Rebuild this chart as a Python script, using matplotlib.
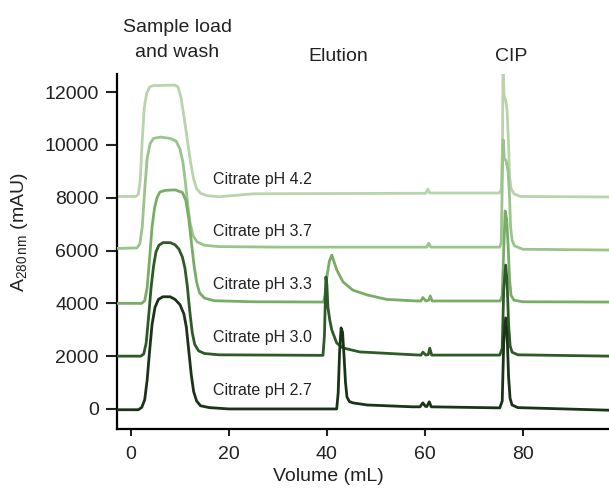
import matplotlib
matplotlib.use('Agg')
import matplotlib.pyplot as plt
from matplotlib.transforms import blended_transform_factory

plt.rcParams['font.family'] = ['Liberation Sans', 'DejaVu Sans']
plt.rcParams['mathtext.fontset'] = 'custom'
plt.rcParams['mathtext.rm'] = 'Liberation Sans'
plt.rcParams['mathtext.it'] = 'Liberation Sans:italic'

# traces, mAU above each trace's own baseline
vol_27 = [-3, 1.5, 2.2, 2.8, 3.3, 3.8, 4.3, 4.9, 5.6, 6.5, 8.0, 9.0, 10.0, 10.8, 11.3, 11.8, 12.3, 12.8, 13.4, 14.2, 16.0, 20.0,
          42.0, 42.3, 42.6, 42.9, 43.2, 43.5, 43.8, 44.1, 44.6, 45.3, 48.2, 57.5,
          59.0, 59.6, 60.1, 60.4, 60.9, 61.3,
          75.3, 75.8, 76.1, 76.5, 76.8, 77.1, 77.4, 77.8, 79.0, 98.0]
mau_27 = [-30, -30, 60, 350, 1100, 2200, 3200, 3850, 4150, 4250, 4250, 4150, 3950, 3600, 3100, 2200, 1300, 650, 300, 120, 50, 0,
          0, 600, 2200, 3070, 2900, 2000, 1000, 450, 280, 230, 150, 80,
          80, 230, 100, 90, 270, 80,
          40, 300, 2500, 3450, 2800, 1200, 400, 150, 50, -50]

vol_30 = [-3, 2.0, 2.6, 3.1, 3.6, 4.1, 4.6, 5.1, 5.7, 6.5, 8.0, 9.0, 9.8, 10.5, 11.0, 11.5, 12.0, 12.5, 13.0, 13.8, 15.0, 18.0,
          39.2, 39.5, 39.8, 40.0, 40.2, 40.6, 41.0, 42.0, 43.3, 46.7, 50.8, 58.4,
          59.2, 59.6, 60.2, 60.7, 61.0, 61.4,
          75.3, 75.8, 76.1, 76.5, 76.8, 77.1, 77.4, 77.8, 79.0, 98.0]
mau_30 = [0, 0, 80, 500, 1500, 2600, 3400, 3950, 4200, 4300, 4300, 4220, 4050, 3750, 3350, 2650, 1700, 900, 450, 200, 100, 50,
          30, 800, 3000, 2700, 1860, 1350, 990, 500, 310, 160, 120, 45,
          40, 150, 40, 60, 300, 40,
          40, 300, 2500, 3450, 2800, 1200, 400, 150, 50, 0]

vol_33 = [-3, 2.2, 2.8, 3.3, 3.8, 4.3, 4.8, 5.3, 5.9, 7.0, 9.0, 10.5, 11.2, 11.8, 12.4, 12.9, 13.4, 14.0, 15.0, 17.0, 25.0,
          39.3, 39.6, 40.0, 40.5, 41.0, 41.5, 42.0, 43.3, 45.3, 48.2, 52.2, 58.4,
          59.2, 59.6, 60.2, 60.8, 61.1, 61.5,
          75.4, 75.8, 76.1, 76.4, 76.7, 77.0, 77.3, 77.6, 78.2, 80.0, 98.0]
mau_33 = [0, 0, 100, 600, 1700, 2900, 3600, 4000, 4220, 4280, 4300, 4200, 3900, 3200, 2200, 1400, 800, 400, 200, 100, 60,
          50, 300, 1000, 1600, 1830, 1550, 1270, 810, 500, 320, 150, 90,
          90, 220, 90, 120, 280, 90,
          90, 300, 2000, 3500, 3200, 2200, 900, 300, 120, 60, 50]

vol_37 = [-3, 1.2, 1.8, 2.3, 2.8, 3.3, 3.9, 4.6, 6.0, 8.0, 9.2, 10.0, 10.6, 11.1, 11.6, 12.1, 12.7, 13.5, 15.0, 18.0, 30.0,
          60.4, 60.8, 61.2,
          75.3, 75.6, 75.8, 75.95, 76.05, 76.2, 76.6, 77.0, 77.3, 77.5, 77.8, 78.3, 80.0, 98.0]
mau_37 = [80, 100, 250, 900, 2300, 3500, 4050, 4250, 4300, 4250, 4150, 3850, 3350, 2600, 1700, 1000, 550, 330, 200, 150, 130,
          130, 280, 130,
          130, 300, 2500, 4200, 4150, 3500, 3400, 3000, 2000, 900, 400, 180, 50, 20]

vol_42 = [-3, 1.0, 1.5, 1.9, 2.3, 2.7, 3.2, 3.8, 4.5, 9.0, 9.6, 10.2, 10.8, 11.5, 12.2, 12.8, 13.4, 14.2, 15.5, 18.0, 25.0,
          55.0, 60.2, 60.6, 61.0,
          75.2, 75.6, 75.85, 75.95, 76.05, 76.15, 76.5, 76.8, 77.1, 77.3, 77.6, 78.2, 79.5, 98.0]
mau_42 = [50, 50, 130, 700, 2200, 3400, 3950, 4200, 4250, 4270, 4200, 3800, 3100, 2200, 1300, 700, 350, 170, 80, 40, 150,
          170, 170, 330, 180,
          180, 300, 2000, 4700, 4700, 3900, 3700, 3300, 2000, 800, 350, 150, 50, 30]

names = ['Citrate pH 4.2', 'Citrate pH 3.7', 'Citrate pH 3.3', 'Citrate pH 3.0', 'Citrate pH 2.7']
offsets = [8000, 6000, 4000, 2000, 0]
vols = [vol_42, vol_37, vol_33, vol_30, vol_27]
maus = [mau_42, mau_37, mau_33, mau_30, mau_27]
colors = ['#b8d4ab', '#99c48a', '#78ad66', '#2e5a27', '#1b3318']

phases = ['Sample load', 'and wash', 'Elution', 'CIP']
phase_x = [9.5, 9.5, 42.4, 77.7]

fig = plt.figure(figsize=(6.09, 4.90), dpi=100)
ax = fig.add_axes([0.1921, 0.1245, 0.8079, 0.7245])

for i in range(len(names)):
    y = [m + offsets[i] for m in maus[i]]
    ax.plot(vols[i], y, color=colors[i], lw=2.0, solid_joinstyle='round', zorder=2 + i)
    ax.text(16.7, offsets[i] + 540, names[i], fontsize=11.5, ha='left', va='baseline', color='#222222')

trans = blended_transform_factory(ax.transData, ax.transAxes)
phase_y = [1.118, 1.048, 1.037, 1.037]
for t, x, yy in zip(phases, phase_x, phase_y):
    ax.text(x, yy, t, transform=trans, fontsize=14, ha='center', va='baseline', color='#222222')

ax.set_xlim(-2.86, 97.6)
ax.set_ylim(-760, 12690)
ax.set_xticks([0, 20, 40, 60, 80])
ax.set_yticks([0, 2000, 4000, 6000, 8000, 10000, 12000])

ax.spines['top'].set_visible(False)
ax.spines['right'].set_visible(False)
ax.spines['left'].set_linewidth(1.6)
ax.spines['bottom'].set_linewidth(1.6)
ax.tick_params(axis='y', length=8, width=1.5, pad=5, labelsize=14, colors='#222222')
ax.tick_params(axis='x', length=5, width=1.5, pad=7, labelsize=14, colors='#222222')

ax.set_xlabel('Volume (mL)', fontsize=14, color='#222222')
ax.set_ylabel(r'A$_{\mathrm{280\,nm}}$ (mAU)', fontsize=14, color='#222222')
ax.xaxis.set_label_coords(0.429, -0.11)
ax.yaxis.set_label_coords(-0.177, 0.555)

fig.savefig('out.png', dpi=100)
